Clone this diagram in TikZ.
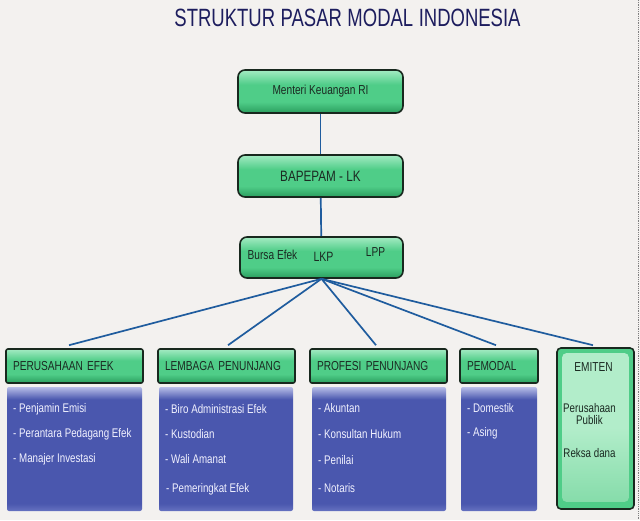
\documentclass[tikz,border=0pt]{standalone}
\usepackage{fontspec}
\setmainfont{Liberation Sans}[FakeStretch=0.78]
\newfontfamily\titlefont{Liberation Sans}[FakeStretch=0.74]
\newcommand\fsz[1]{\fontsize{#1}{#1}\selectfont\spaceskip=0.22em\relax}
\definecolor{bgc}{HTML}{F3F1EF}
\definecolor{gtop}{HTML}{A4EBC3}
\definecolor{gmid}{HTML}{4FCD88}
\definecolor{gbot}{HTML}{2A9E5E}
\definecolor{gline}{HTML}{18281E}
\definecolor{btop}{HTML}{B8BEE8}
\definecolor{bmain}{HTML}{4A57AE}
\definecolor{bbot}{HTML}{6672C0}
\definecolor{connc}{HTML}{1F5C9E}
\definecolor{titlec}{HTML}{1D1D5E}
\definecolor{hdrtxt}{HTML}{1B2A22}
\definecolor{itemtxt}{HTML}{F2F2FF}
\definecolor{eminner}{HTML}{B2EDCA}
\definecolor{eminbot}{HTML}{86DCAA}
\pgfdeclareverticalshading{greensh}{100bp}{color(0bp)=(gbot); color(25bp)=(gbot); color(38bp)=(gmid); color(58bp)=(gmid); color(75bp)=(gtop); color(100bp)=(gtop)}
\pgfdeclareverticalshading{bluesh}{100bp}{color(0bp)=(bbot); color(25bp)=(bbot); color(28bp)=(bmain); color(70bp)=(bmain); color(75bp)=(btop); color(100bp)=(btop)}
\begin{document}
\begin{tikzpicture}[x=1pt,y=-1pt,
  gbox/.style={draw=gline, line width=1.6pt, shading=greensh, rounded corners=7pt, inner sep=0pt},
  hbox/.style={draw=gline, line width=1.6pt, shading=greensh, rounded corners=2pt, inner xsep=7pt, inner ysep=0pt, minimum height=34, align=left, text=hdrtxt, font=\fsz{13}},
  bbox/.style={shading=bluesh, rounded corners=2pt, inner sep=0pt, minimum height=124},
  item/.style={anchor=west, inner sep=0pt, text=itemtxt, font=\fsz{12.5}},
  etxt/.style={inner sep=0pt, text=hdrtxt, align=center, font=\fsz{12.5}},
  conn/.style={draw=connc, line width=1.7pt}]
\fill[bgc] (0,0) rectangle (640,520);
\useasboundingbox (0,0) rectangle (640,520);
\draw[gray, densely dotted, line width=0.8pt] (638.5,0) -- (638.5,520);
% title
\node[inner sep=0pt, text=titlec, font=\titlefont\fsz{25}] (title) at (347.5,18) {STRUKTUR PASAR MODAL INDONESIA};
% top chain
\node[gbox, minimum width=165, minimum height=43, text=hdrtxt, font=\fsz{13}] (mk) at (320.5,91.5) {Menteri Keuangan RI};
\node[gbox, minimum width=165, minimum height=42, text=hdrtxt, font=\fsz{15}] (bp) at (320.5,176) {BAPEPAM - LK};
\node[gbox, minimum width=163, minimum height=41] (bursa) at (321.5,257.5) {};
\node[inner sep=0pt, text=hdrtxt, font=\fsz{13}] (be) at (272.5,255) {Bursa Efek};
\node[inner sep=0pt, text=hdrtxt, font=\fsz{13.5}] (lkp) at (323.5,257) {LKP};
\node[inner sep=0pt, text=hdrtxt, font=\fsz{13}] (lpp) at (375.5,252) {LPP};
\draw[conn] (mk) -- (bp);
\draw[conn] (bp) -- (bursa);
% headers
\node[hbox, text width=123] (pe) at (74.5,366) {PERUSAHAAN EFEK};
\node[hbox, text width=123] (lp) at (226.5,366) {LEMBAGA PENUNJANG};
\node[hbox, text width=123] (pp) at (378.5,366) {PROFESI PENUNJANG};
\node[hbox, text width=64] (pm) at (499,366) {PEMODAL};
% emiten
\node[draw=gline, line width=1.6pt, fill=gmid, rounded corners=4pt, minimum width=77, minimum height=161, inner sep=0pt] (em) at (595.5,428.5) {};
\shade[top color=eminner, bottom color=eminbot, middle color=eminner, rounded corners=4pt] ([shift={(6pt,-6pt)}]em.north west) rectangle ([shift={(-6pt,8pt)}]em.south east);
\node[etxt, font=\fsz{13}] (em0) at (593.5,367) {EMITEN};
\node[etxt] (em1) at (589.5,414) {Perusahaan\\[-1pt]Publik};
\node[etxt] (em2) at (589.5,453) {Reksa dana};
% blue boxes
\node[bbox, minimum width=135] (peb) at (74.5,449) {};
\node[bbox, minimum width=134] (lpb) at (226,449) {};
\node[bbox, minimum width=134] (ppb) at (379,449) {};
\node[bbox, minimum width=76] (pmb) at (499,449) {};
% items
\node[item] (pe1) at (13,409) {- Penjamin Emisi};
\node[item] (pe2) at (13,434) {- Perantara Pedagang Efek};
\node[item] (pe3) at (13,459) {- Manajer Investasi};
\node[item] (lp1) at (165,409) {- Biro Administrasi Efek};
\node[item] (lp2) at (165,434) {- Kustodian};
\node[item] (lp3) at (165,459) {- Wali Amanat};
\node[item] (lp4) at (166,489) {- Pemeringkat Efek};
\node[item] (pp1) at (318,408) {- Akuntan};
\node[item] (pp2) at (318,434) {- Konsultan Hukum};
\node[item] (pp3) at (318,460) {- Penilai};
\node[item] (pp4) at (318,488) {- Notaris};
\node[item] (pm1) at (467,408) {- Domestik};
\node[item] (pm2) at (467,433) {- Asing};
% fan connectors
\draw[conn] (bursa.south) -- ([xshift=-5.5pt,yshift=3pt]pe.north);
\draw[conn] (bursa.south) -- ([xshift=1.5pt,yshift=3pt]lp.north);
\draw[conn] (bursa.south) -- ([xshift=-2.5pt,yshift=3pt]pp.north);
\draw[conn] (bursa.south) -- ([xshift=-3pt,yshift=3pt]pm.north);
\draw[conn] (bursa.south) -- ([xshift=-2.5pt,yshift=2pt]em.north);
\end{tikzpicture}
\end{document}
